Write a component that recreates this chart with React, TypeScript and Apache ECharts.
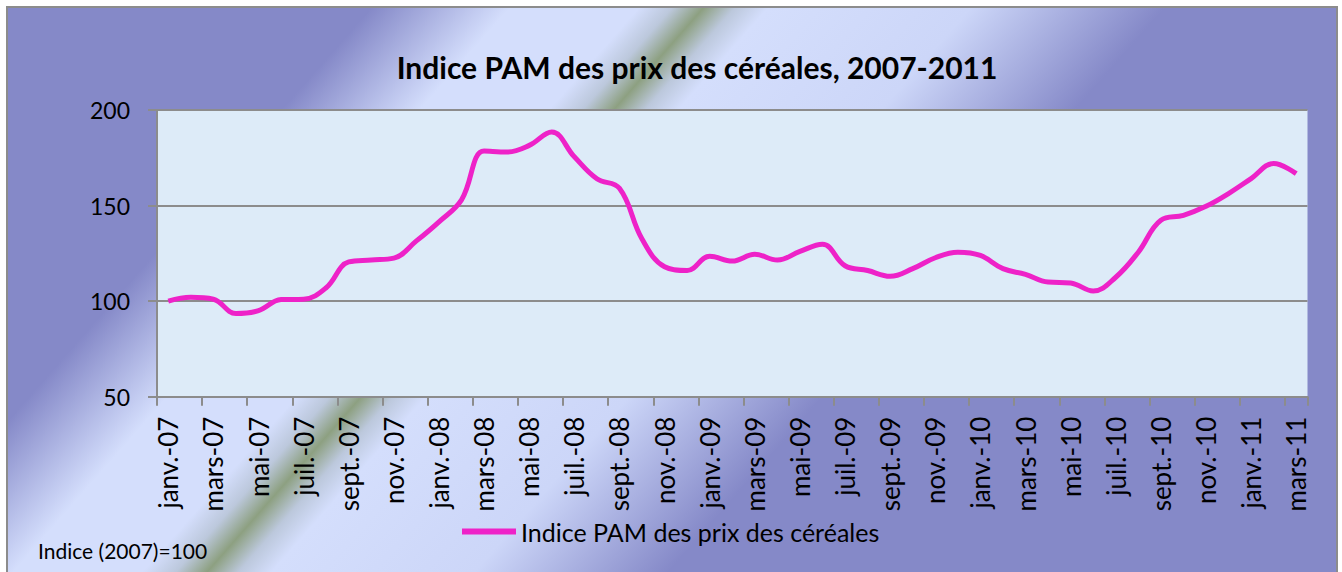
import React, { useEffect, useRef } from "react";
import * as echarts from "echarts";

const categories: string[] = [
  "janv.-07", "févr.-07", "mars-07", "avr.-07", "mai-07", "juin-07", "juil.-07", "août-07", "sept.-07", "oct.-07", "nov.-07", "déc.-07",
  "janv.-08", "févr.-08", "mars-08", "avr.-08", "mai-08", "juin-08", "juil.-08", "août-08", "sept.-08", "oct.-08", "nov.-08", "déc.-08",
  "janv.-09", "févr.-09", "mars-09", "avr.-09", "mai-09", "juin-09", "juil.-09", "août-09", "sept.-09", "oct.-09", "nov.-09", "déc.-09",
  "janv.-10", "févr.-10", "mars-10", "avr.-10", "mai-10", "juin-10", "juil.-10", "août-10", "sept.-10", "oct.-10", "nov.-10", "déc.-10",
  "janv.-11", "févr.-11", "mars-11",
];

const cerealIndex: number[] = [
  100, 102, 101, 93.5, 95, 100.8, 101, 107, 120.5, 121.5, 122.5, 131.5,
  141.5, 153, 178.5, 178, 181.5, 188.5, 175.5, 164, 159, 132.5, 118, 116,
  123.5, 121, 124.5, 121.5, 126, 129.7, 118.5, 116, 113, 117, 122.7, 125.6,
  123.9, 117, 114, 110, 109.5, 105.3, 112.5, 125.6, 142.3, 144.9, 149.6, 156.3,
  164.1, 172, 166.7,
];

const yTicks = { min: 50, max: 200, interval: 50 };

const seriesName = "Indice PAM des prix des céréales";
const titleText = "Indice PAM des prix des céréales, 2007-2011";
const noteText = "Indice (2007)=100";

const FONT = "Lato, 'Open Sans', sans-serif";
const PURPLE = "#8589C8";
const LIGHT = "#D4DEFC";
const GREEN = "#8DA081";
const LINE = "#EE22C8";

export default function App() {
  const ref = useRef<HTMLDivElement>(null);

  useEffect(() => {
    if (!ref.current) return;
    const chart = echarts.init(ref.current, undefined, { renderer: "svg" });

    const bg = new echarts.graphic.LinearGradient(
      0,
      0,
      1040,
      915,
      [
        { offset: 0, color: PURPLE },
        { offset: 0.205, color: PURPLE },
        { offset: 0.28, color: LIGHT },
        { offset: 0.35, color: LIGHT },
        { offset: 0.368, color: "#BCC8DC" },
        { offset: 0.385, color: GREEN },
        { offset: 0.402, color: "#BCC8DC" },
        { offset: 0.42, color: LIGHT },
        { offset: 0.53, color: "#CCD6F8" },
        { offset: 0.635, color: PURPLE },
        { offset: 1, color: PURPLE },
      ],
      true
    );

    chart.setOption({
      animation: false,
      graphic: [
        {
          type: "rect",
          z: -100,
          silent: true,
          shape: { x: 7, y: 7, width: 1330, height: 570 },
          style: { fill: bg, stroke: "#8C8C8C", lineWidth: 2 },
        },
        {
          type: "text",
          z: 10,
          x: 697,
          y: 67,
          style: {
            text: titleText,
            fill: "#000",
            font: `bold 30px ${FONT}`,
            fontSize: 30,
            fontWeight: "bold",
            fontFamily: FONT,
            align: "center",
            verticalAlign: "middle",
            textAlign: "center",
            textVerticalAlign: "middle",
          },
        },
        {
          type: "text",
          z: 10,
          x: 38,
          y: 550,
          style: {
            text: noteText,
            fill: "#000",
            fontSize: 21,
            fontFamily: FONT,
            align: "left",
            verticalAlign: "middle",
            textAlign: "left",
            textVerticalAlign: "middle",
          },
        },
      ],
      legend: {
        left: 457,
        top: 514,
        icon: "rect",
        itemWidth: 54,
        itemHeight: 6,
        itemGap: 6,
        textStyle: { fontSize: 25, color: "#000", fontFamily: FONT },
        data: [seriesName],
      },
      grid: {
        left: 157,
        right: 34.5,
        top: 110,
        bottom: 175.3,
        show: true,
        backgroundColor: "#DDEBF8",
        borderWidth: 0,
      },
      xAxis: {
        type: "category",
        data: categories,
        boundaryGap: true,
        axisLine: { show: true, lineStyle: { color: "#8C8C8C", width: 2 } },
        axisTick: { show: true, interval: 1, length: 9, lineStyle: { color: "#8C8C8C", width: 2 } },
        axisLabel: {
          interval: 1,
          rotate: 90,
          margin: 20,
          fontSize: 26,
          color: "#000",
          fontFamily: FONT,
        },
        splitLine: { show: false },
      },
      yAxis: {
        type: "value",
        min: yTicks.min,
        max: yTicks.max,
        interval: yTicks.interval,
        axisLine: { show: true, lineStyle: { color: "#8C8C8C", width: 2 } },
        axisTick: { show: true, length: 9, lineStyle: { color: "#8C8C8C", width: 2 } },
        axisLabel: { fontSize: 23, color: "#000", fontFamily: FONT, margin: 27 },
        splitLine: { show: true, lineStyle: { color: "#8C8C8C", width: 2 } },
      },
      series: [
        {
          name: seriesName,
          type: "line",
          data: cerealIndex,
          smooth: 0.4,
          showSymbol: false,
          symbol: "none",
          lineStyle: { color: LINE, width: 5 },
          itemStyle: { color: LINE },
          z: 5,
        },
      ],
    });

    return () => chart.dispose();
  }, []);

  return (
    <div
      ref={ref}
      style={{ position: "absolute", left: 0, top: 0, width: 1342, height: 572 }}
    />
  );
}
